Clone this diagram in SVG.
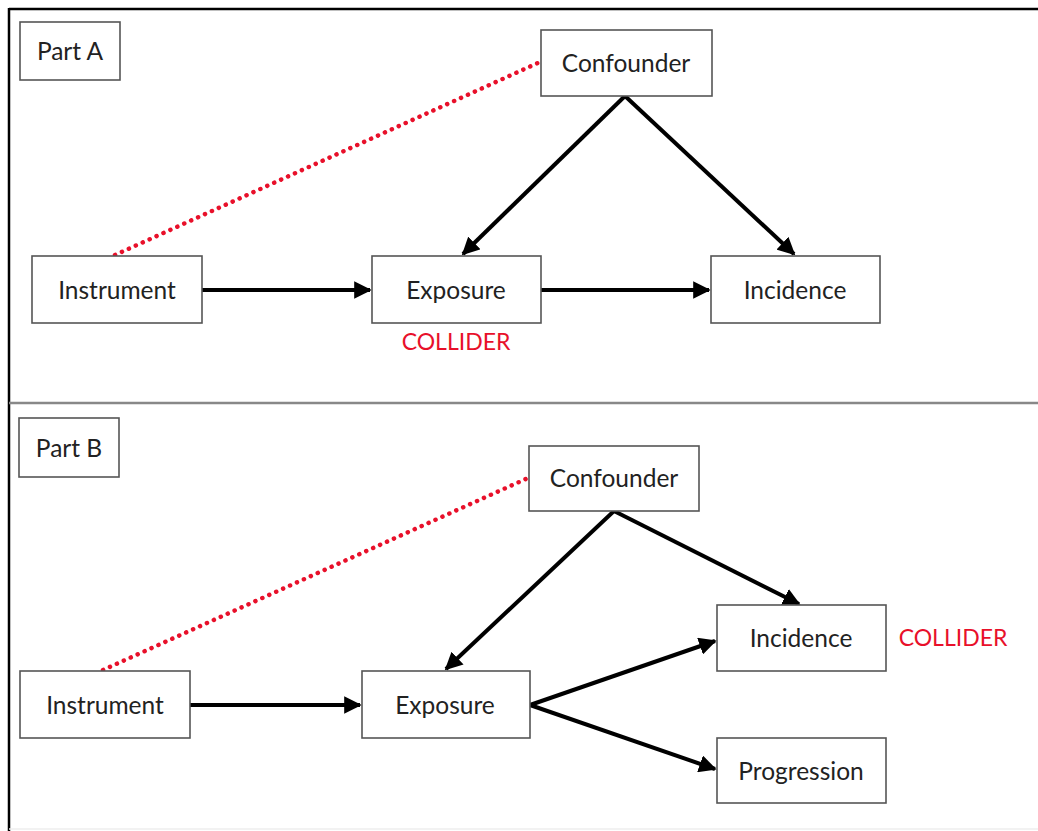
<svg xmlns="http://www.w3.org/2000/svg" width="1038" height="831" viewBox="0 0 1038 831">
<style>
.box{fill:#fff;stroke:#555;stroke-width:1.6}
.lbl{font-family:Lato,"Open Sans","Liberation Sans",sans-serif;font-size:24.5px;fill:#222;text-anchor:middle;dominant-baseline:central}
.red{fill:#e8102a;font-size:23px}
.arr{stroke:#000;stroke-width:4;fill:none;marker-end:url(#ah)}
.dot{stroke:#e8102a;stroke-width:4.5;stroke-dasharray:0.1 7.5;stroke-linecap:round;fill:none}
</style>
<defs>
<marker id="ah" viewBox="0 0 10 10" refX="9" refY="5" markerWidth="4.4" markerHeight="4.4" orient="auto" markerUnits="strokeWidth">
<path d="M0,0 L10,5 L0,10 Z" fill="#000"/>
</marker>
</defs>
<rect width="1038" height="831" fill="#fff"/>
<g id="frame">
<line x1="9" y1="9" x2="1038" y2="9" stroke="#000" stroke-width="2.5"/>
<line x1="9" y1="8" x2="9" y2="831" stroke="#000" stroke-width="2.5"/>
<line x1="9" y1="403" x2="1038" y2="403" stroke="#888" stroke-width="2.5"/>
<line x1="9" y1="829" x2="1038" y2="829" stroke="#eee" stroke-width="1.5"/>
</g>
<g id="connectors">
<line class="dot" x1="115" y1="255" x2="540" y2="62"/>
<line class="arr" x1="202" y1="290" x2="370" y2="290"/>
<line class="arr" x1="541" y1="290" x2="709" y2="290"/>
<line class="arr" x1="625" y1="96" x2="463" y2="254"/>
<line class="arr" x1="625" y1="96" x2="794" y2="254"/>
<line class="dot" x1="103" y1="670" x2="528" y2="478"/>
<line class="arr" x1="190" y1="705" x2="360" y2="705"/>
<line class="arr" x1="614" y1="511" x2="446" y2="669"/>
<line class="arr" x1="614" y1="511" x2="799" y2="604"/>
<line class="arr" x1="530" y1="705" x2="715" y2="641"/>
<line class="arr" x1="530" y1="705" x2="715" y2="769"/>
</g>
<g id="partA">
<rect class="box" x="20" y="22" width="100" height="58"/>
<text class="lbl" x="70" y="50">Part A</text>
</g>
<g id="confounderA">
<rect class="box" x="541" y="30" width="171" height="66"/>
<text class="lbl" x="626" y="62">Confounder</text>
</g>
<g id="instrumentA">
<rect class="box" x="32" y="256" width="170" height="67"/>
<text class="lbl" x="117" y="289">Instrument</text>
</g>
<g id="exposureA">
<rect class="box" x="372" y="256" width="169" height="67"/>
<text class="lbl" x="456" y="289">Exposure</text>
<text class="lbl red" x="456" y="341">COLLIDER</text>
</g>
<g id="incidenceA">
<rect class="box" x="711" y="256" width="169" height="67"/>
<text class="lbl" x="795" y="289">Incidence</text>
</g>
<g id="partB">
<rect class="box" x="19" y="418" width="100" height="59"/>
<text class="lbl" x="69" y="447">Part B</text>
</g>
<g id="confounderB">
<rect class="box" x="529" y="446" width="170" height="65"/>
<text class="lbl" x="614" y="477">Confounder</text>
</g>
<g id="instrumentB">
<rect class="box" x="20" y="671" width="170" height="67"/>
<text class="lbl" x="105" y="704">Instrument</text>
</g>
<g id="exposureB">
<rect class="box" x="362" y="671" width="168" height="67"/>
<text class="lbl" x="445" y="704">Exposure</text>
</g>
<g id="incidenceB">
<rect class="box" x="717" y="605" width="169" height="66"/>
<text class="lbl" x="801" y="637">Incidence</text>
<text class="lbl red" x="953" y="637">COLLIDER</text>
</g>
<g id="progressionB">
<rect class="box" x="717" y="738" width="169" height="65"/>
<text class="lbl" x="801" y="770">Progression</text>
</g>
</svg>
